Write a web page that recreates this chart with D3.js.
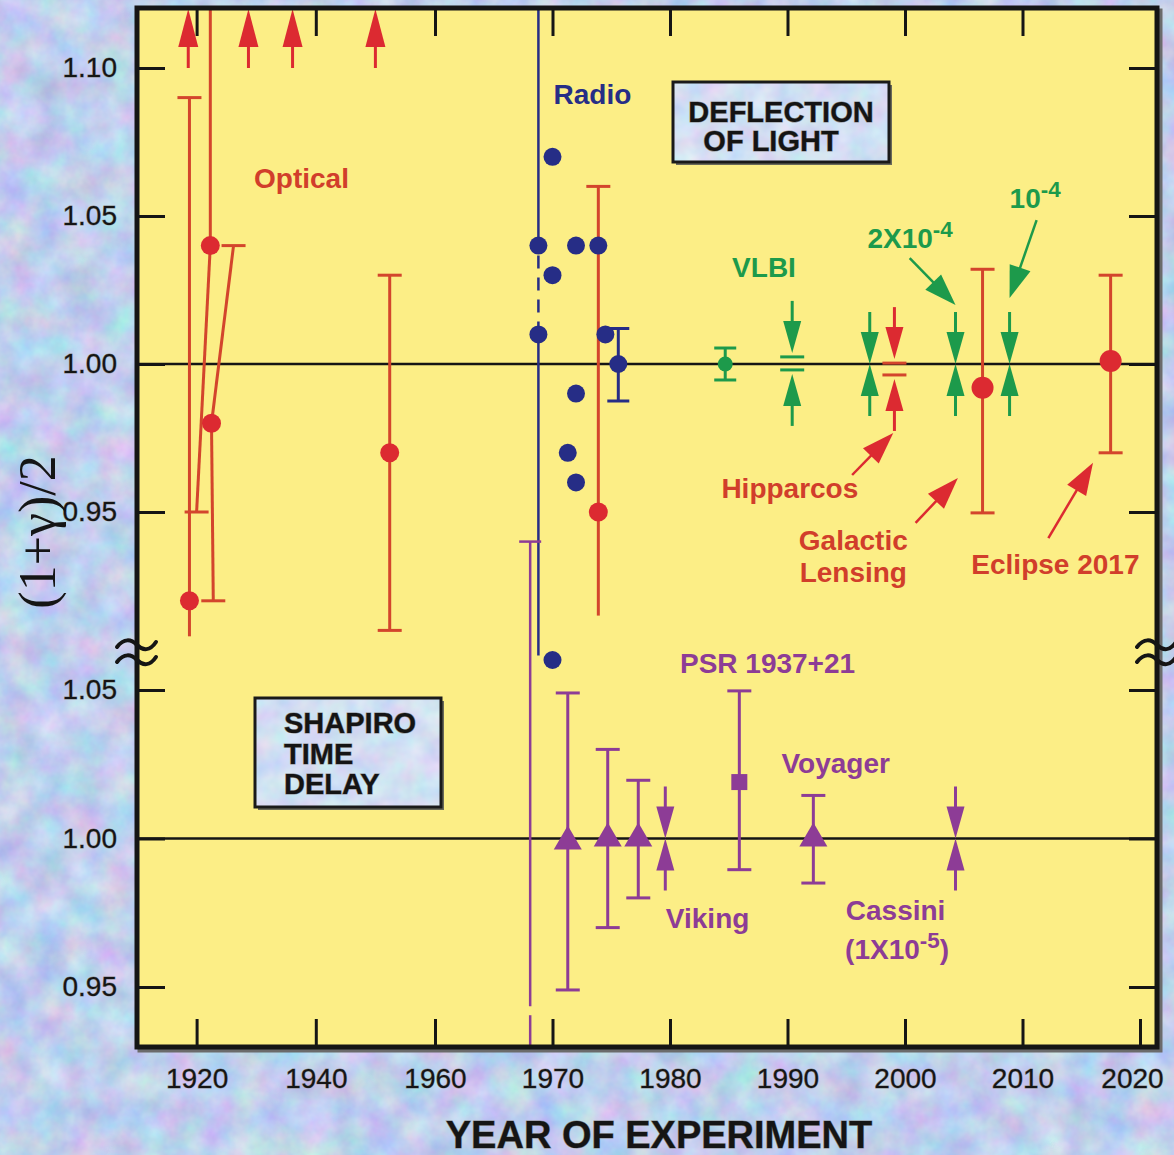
<!DOCTYPE html>
<html><head><meta charset="utf-8">
<script src="https://cdn.jsdelivr.net/npm/d3@7"></script>
<style>html,body{margin:0;padding:0;background:#c2cef0;} svg{display:block}</style>
</head><body>
<svg id="c" width="1174" height="1155"></svg>
<script>
// ---------------- DATA ----------------
const xTickYears = [1920, 1940, 1960, 1970, 1980, 1990, 2000, 2010, 2020];
const xTopTickYears = [1920, 1940, 1960, 1970, 1980, 1990, 2000, 2010];
const yTicksUpper = [1.10, 1.05, 1.00, 0.95];
const yTicksLower = [1.05, 1.00, 0.95];

// Optical deflection (red), upper panel
const opticalYears     = [1918.8, 1922.3, 1922.5, 1952.4, 1973.9];
const opticalValues    = [0.920, 1.040, 0.980, 0.970, 0.950];
const opticalHigh      = [1.090, 1.125, 1.040, 1.030, 1.060];
const opticalHighYear  = [1918.8, 1922.3, 1926.2, 1952.4, 1973.9];
const opticalLow       = [0.908, 0.950, 0.920, 0.910, 0.915];
const opticalLowYear   = [1918.8, 1920.0, 1922.8, 1952.4, 1973.9];
const opticalHighCap   = [true, false, true, true, true];
const opticalLowCap    = [false, true, true, true, false];
// Optical results off the top of the scale (> 1.10)
const opticalOffYears  = [1918.6, 1928.7, 1936.1, 1950.0];

// Radio (navy dots)
const radioYears  = [1968.8, 1970.0, 1970.0, 1968.8, 1972.0, 1973.9, 1972.0, 1971.3, 1972.0, 1974.5, 1970.0];
const radioValues = [1.040, 1.070, 1.030, 1.010, 1.040, 1.040, 0.990, 0.970, 0.960, 1.010, 0.900];
// Radio wide bound (1968.8) and radio error-bar point (1975.6)
const radioWideYear = 1968.8, radioWideHigh = 1.125, radioWideLow = 0.9005, radioDashFrom = 1.040, radioDashTo = 1.010;
const radioBarYear = 1975.6, radioBarValue = 1.000, radioBarHigh = 1.012, radioBarLow = 0.9875;

// VLBI point with error bar (green)
const vlbiYear = 1984.7, vlbiValue = 1.000, vlbiHigh = 1.0054, vlbiLow = 0.9946;

// Bounds drawn as converging arrows (upper panel)
const boundYears = [1990.4, 1997.0, 1999.1, 2004.3, 2008.9];
const boundHigh  = [1.0024, 1.000, 1.0003, 1.000, 1.000];
const boundLow   = [0.9980, 1.000, 0.9963, 1.000, 1.000];
const boundGroup = ['VLBI', 'VLBI', 'Hipparcos', 'VLBI', 'VLBI'];

// Galactic lensing & Eclipse 2017 (red)
const modernYears  = [2006.6, 2017.5];
const modernValues = [0.992, 1.001];
const modernHigh   = [1.032, 1.030];
const modernLow    = [0.9497, 0.970];

// Shapiro time delay (purple), lower panel
const shapiroYears  = [1971.3, 1974.7, 1977.3, 1992.2];
const shapiroValues = [1.000, 1.001, 1.001, 1.001];
const shapiroHigh   = [1.049, 1.030, 1.0196, 1.0145];
const shapiroLow    = [0.949, 0.970, 0.980, 0.985];
const psrYear = 1985.9, psrValue = 1.019, psrHigh = 1.0497, psrLow = 0.9895;
const shapiroBoundYears = [1979.6, 2004.3];
const shapiroBoundValue = [1.000, 1.000];
const shapiro1968Year = 1968.1, shapiro1968Top = 0.940;

// ---------------- STYLE / LAYOUT ----------------
const C = {
  red: '#dc2a31', redBar: '#d3452c', redText: '#d13e2b',
  navy: '#262d86', green: '#1d9a4b', purple: '#8d3c96',
  yellow: '#fcee86', ink: '#151515'
};
const FONT = '"Liberation Sans", Arial, Helvetica, sans-serif';
const frame = {l: 137, r: 1157, t: 8, b: 1047};

const X  = d3.scaleLinear().domain([1910, 1960, 2020]).range([137, 435, 1140]);
const YU = d3.scaleLinear().domain([0.95, 1.10]).range([512, 68]);
const YL = d3.scaleLinear().domain([0.95, 1.05]).range([987, 690]);

const svg = d3.select('#c');
const defs = svg.append('defs');

// marbled background
const f1 = defs.append('filter').attr('id', 'marble').attr('x', 0).attr('y', 0).attr('width', '100%').attr('height', '100%')
  .attr('color-interpolation-filters', 'sRGB');
f1.append('feTurbulence').attr('type', 'fractalNoise').attr('baseFrequency', '0.03').attr('numOctaves', 4).attr('seed', 7);
f1.append('feColorMatrix').attr('type', 'matrix').attr('values',
  '0.34 0 0 0 0.58  0 0.30 0 0 0.66  0 0 0.14 0 0.86  0 0 0 0 1');
const f2 = defs.append('filter').attr('id', 'marble2').attr('x', 0).attr('y', 0).attr('width', '100%').attr('height', '100%')
  .attr('color-interpolation-filters', 'sRGB');
f2.append('feTurbulence').attr('type', 'fractalNoise').attr('baseFrequency', '0.04').attr('numOctaves', 3).attr('seed', 3);
f2.append('feColorMatrix').attr('type', 'matrix').attr('values',
  '0.36 0 0 0 0.64  0 0.30 0 0 0.72  0 0 0.12 0 0.89  0 0 0 0 1');

defs.append('clipPath').attr('id', 'plotclip').append('rect')
  .attr('x', frame.l).attr('y', frame.t).attr('width', frame.r - frame.l).attr('height', frame.b - frame.t);

svg.append('rect').attr('width', 1174).attr('height', 1155).attr('fill', '#c2cef0');
svg.append('rect').attr('width', 1174).attr('height', 1155).attr('filter', 'url(#marble)');

// frame shadow and fill
svg.append('rect').attr('x', frame.l + 3).attr('y', frame.t + 3).attr('width', frame.r - frame.l).attr('height', frame.b - frame.t)
  .attr('fill', 'none').attr('stroke', '#6b6b6b').attr('stroke-width', 5);
svg.append('rect').attr('x', frame.l).attr('y', frame.t).attr('width', frame.r - frame.l).attr('height', frame.b - frame.t)
  .attr('fill', C.yellow);

// ---------- axes ----------
const axisG = svg.append('g');
function styleAxis(g) {
  g.select('.domain').remove();
  g.selectAll('.tick line').attr('stroke', C.ink).attr('stroke-width', 3);
  g.selectAll('.tick text').attr('font-family', FONT).attr('font-size', 28).attr('fill', C.ink)
    .attr('stroke', '#8a8a8a').attr('stroke-width', 0.8).attr('paint-order', 'stroke');
}
axisG.append('g').attr('transform', `translate(0,${frame.b})`)
  .call(d3.axisBottom(X).tickValues(xTickYears).tickSize(-28).tickPadding(21).tickFormat(d3.format('d')))
  .call(styleAxis)
  .call(g => g.selectAll('.tick text').attr('transform', d => d === 2020 ? 'translate(-8,0)' : null));
axisG.append('g').attr('transform', `translate(0,${frame.t})`)
  .call(d3.axisTop(X).tickValues(xTopTickYears).tickSize(-28).tickFormat(''))
  .call(styleAxis);
axisG.append('g').attr('transform', `translate(${frame.l},0)`)
  .call(d3.axisLeft(YU).tickValues(yTicksUpper).tickSize(-28).tickPadding(20).tickFormat(d3.format('.2f')))
  .call(styleAxis);
axisG.append('g').attr('transform', `translate(${frame.l},0)`)
  .call(d3.axisLeft(YL).tickValues(yTicksLower).tickSize(-28).tickPadding(20).tickFormat(d3.format('.2f')))
  .call(styleAxis);
axisG.append('g').attr('transform', `translate(${frame.r},0)`)
  .call(d3.axisRight(YU).tickValues(yTicksUpper).tickSize(-28).tickFormat(''))
  .call(styleAxis);
axisG.append('g').attr('transform', `translate(${frame.r},0)`)
  .call(d3.axisRight(YL).tickValues(yTicksLower).tickSize(-28).tickFormat(''))
  .call(styleAxis);

// reference lines at 1.00
[YU(1.0), YL(1.0)].forEach(y => {
  svg.append('line').attr('x1', frame.l).attr('x2', frame.r).attr('y1', y).attr('y2', y)
    .attr('stroke', C.ink).attr('stroke-width', 2.5);
});

const plot = svg.append('g').attr('clip-path', 'url(#plotclip)');

// ---------- helpers ----------
function seg(g, x1, y1, x2, y2, color, w, dash) {
  const l = g.append('line').attr('x1', x1).attr('y1', y1).attr('x2', x2).attr('y2', y2)
    .attr('stroke', color).attr('stroke-width', w);
  if (dash) l.attr('stroke-dasharray', dash);
  return l;
}
function cap(g, x, y, color, half, w) { seg(g, x - half, y, x + half, y, color, w || 3); }
function arrow(g, x1, y1, x2, y2, color, headLen, headW, shaftW) {
  const dx = x2 - x1, dy = y2 - y1, L = Math.hypot(dx, dy), ux = dx / L, uy = dy / L;
  const bx = x2 - ux * headLen, by = y2 - uy * headLen;
  seg(g, x1, y1, bx + ux * 2, by + uy * 2, color, shaftW);
  const px = -uy, py = ux;
  g.append('path').attr('d', `M${x2},${y2}L${bx + px * headW / 2},${by + py * headW / 2}L${bx - px * headW / 2},${by - py * headW / 2}Z`)
    .attr('fill', color);
}
function bracket(g, x, yTipHi, yTipLo, color) {
  arrow(g, x, yTipHi - 52, x, yTipHi, color, 32, 18, 3);
  arrow(g, x, yTipLo + 52, x, yTipLo, color, 32, 18, 3);
}
function label(g, txt, x, y, color, size, opts) {
  opts = opts || {};
  const t = g.append('text').attr('x', x).attr('y', y).attr('fill', color)
    .attr('font-family', FONT).attr('font-weight', 'bold').attr('font-size', size)
    .attr('text-anchor', opts.anchor || 'middle');
  t.append('tspan').text(txt);
  if (opts.sup) t.append('tspan').attr('font-size', size * 0.8).attr('dy', -size * 0.4).text(opts.sup);
  if (opts.after) t.append('tspan').attr('dy', size * 0.4).text(opts.after);
  if (opts.halo) t.attr('stroke', '#8c8c8c').attr('stroke-width', 1).attr('paint-order', 'stroke');
  return t;
}

// ---------- Upper panel: deflection of light ----------
opticalOffYears.forEach(yr => arrow(plot, X(yr), YU(1.10), X(yr), frame.t + 1, C.red, 38, 20, 3));

opticalYears.forEach((yr, i) => {
  const xc = X(yr), yc = YU(opticalValues[i]);
  const xh = X(opticalHighYear[i]), yh = YU(opticalHigh[i]);
  const xl = X(opticalLowYear[i]), yl = YU(opticalLow[i]);
  seg(plot, xc, yc, xh, yh, C.redBar, 3);
  seg(plot, xc, yc, xl, yl, C.redBar, 3);
  if (opticalHighCap[i]) cap(plot, xh, yh, C.redBar, 12);
  if (opticalLowCap[i]) cap(plot, xl, yl, C.redBar, 12);
});

// radio wide bound
{
  const x = X(radioWideYear);
  seg(plot, x, YU(radioWideHigh), x, YU(radioDashFrom), C.navy, 2.5);
  seg(plot, x, YU(radioDashFrom) + 10, x, YU(radioDashTo) - 6, C.navy, 2.5, '13 9');
  seg(plot, x, YU(radioDashTo), x, YU(radioWideLow) - 3, C.navy, 2.5);
}
// Shapiro 1968 bar crossing the break
{
  const x = X(shapiro1968Year), yTop = YU(shapiro1968Top);
  const ySolidEnd = YL(0.9435), yDash = YL(0.9405);
  seg(plot, x, yTop, x, ySolidEnd, C.purple, 2.5);
  seg(plot, x, yDash, x, frame.b - 2, C.purple, 2.5);
  cap(plot, x, yTop, C.purple, 11, 2.5);
}

// radio error bar point
{
  const x = X(radioBarYear);
  seg(plot, x, YU(radioBarHigh), x, YU(radioBarLow), C.navy, 3);
  cap(plot, x, YU(radioBarHigh), C.navy, 11);
  cap(plot, x, YU(radioBarLow), C.navy, 11);
  plot.append('circle').attr('cx', x).attr('cy', YU(radioBarValue)).attr('r', 9).attr('fill', C.navy);
}
radioYears.forEach((yr, i) => {
  plot.append('circle').attr('cx', X(yr)).attr('cy', YU(radioValues[i])).attr('r', 9).attr('fill', C.navy);
});
opticalYears.forEach((yr, i) => {
  plot.append('circle').attr('cx', X(yr)).attr('cy', YU(opticalValues[i])).attr('r', 9.5).attr('fill', C.red);
});

// VLBI point
{
  const x = X(vlbiYear);
  seg(plot, x, YU(vlbiHigh), x, YU(vlbiLow), C.green, 3);
  cap(plot, x, YU(vlbiHigh), C.green, 11);
  cap(plot, x, YU(vlbiLow), C.green, 11);
  plot.append('circle').attr('cx', x).attr('cy', YU(vlbiValue)).attr('r', 7.5).attr('fill', C.green);
}
boundYears.forEach((yr, i) => {
  const x = X(yr), col = boundGroup[i] === 'Hipparcos' ? C.red : C.green;
  const yh = YU(boundHigh[i]), yl = YU(boundLow[i]);
  if (boundHigh[i] !== boundLow[i]) {
    const cc = boundGroup[i] === 'Hipparcos' ? C.redBar : C.green;
    cap(plot, x, yh, cc, 12, 3);
    cap(plot, x, yl, cc, 12, 3);
    bracket(plot, x, yh - 4, yl + 4, col);
  } else {
    bracket(plot, x, yh, yl, col);
  }
});
modernYears.forEach((yr, i) => {
  const x = X(yr);
  seg(plot, x, YU(modernHigh[i]), x, YU(modernLow[i]), C.redBar, 3);
  cap(plot, x, YU(modernHigh[i]), C.redBar, 12);
  cap(plot, x, YU(modernLow[i]), C.redBar, 12);
  plot.append('circle').attr('cx', x).attr('cy', YU(modernValues[i])).attr('r', 11).attr('fill', C.red);
});

// ---------- Lower panel: Shapiro time delay ----------
shapiroYears.forEach((yr, i) => {
  const x = X(yr), y = YL(shapiroValues[i]);
  seg(plot, x, YL(shapiroHigh[i]), x, YL(shapiroLow[i]), C.purple, 3);
  cap(plot, x, YL(shapiroHigh[i]), C.purple, 12);
  cap(plot, x, YL(shapiroLow[i]), C.purple, 12);
  plot.append('path').attr('d', `M${x},${y - 13}L${x + 14},${y + 11}L${x - 14},${y + 11}Z`).attr('fill', C.purple);
});
{
  const x = X(psrYear);
  seg(plot, x, YL(psrHigh), x, YL(psrLow), C.purple, 3);
  cap(plot, x, YL(psrHigh), C.purple, 12);
  cap(plot, x, YL(psrLow), C.purple, 12);
  plot.append('rect').attr('x', x - 8).attr('y', YL(psrValue) - 8).attr('width', 16).attr('height', 16).attr('fill', C.purple);
}
shapiroBoundYears.forEach((yr, i) => {
  const x = X(yr), y = YL(shapiroBoundValue[i]);
  bracket(plot, x, y, y, C.purple);
});

// ---------- annotation arrows (data coordinates of the upper panel) ----------
const annArrows = [
  {from: [1995.5, 0.9625], to: [1999.0, 0.9767], color: C.red},
  {from: [2000.9, 0.9463], to: [2004.5, 0.9615], color: C.red},
  {from: [2012.2, 0.9412], to: [2016.0, 0.9666], color: C.red},
  {from: [2000.4, 1.0358], to: [2004.3, 1.0199], color: C.green},
  {from: [2011.2, 1.0486], to: [2008.9, 1.0223], color: C.green}
];
annArrows.forEach(a => arrow(plot, X(a.from[0]), YU(a.from[1]), X(a.to[0]), YU(a.to[1]), a.color, 32, 22, 2.5));

// ---------- labels ----------
const lab = svg.append('g');
const LS = 28;
label(lab, 'Optical', X(1937.6), YU(1.0595), C.redText, LS);
label(lab, 'Radio', X(1973.4), YU(1.0878), C.navy, LS);
label(lab, 'VLBI', X(1988.0), YU(1.0294), C.green, LS);
label(lab, '2X10', X(1996.8), YU(1.0392), C.green, LS, {anchor: 'start', sup: '-4'});
label(lab, '10', X(2008.9), YU(1.0527), C.green, LS, {anchor: 'start', sup: '-4'});
label(lab, 'Hipparcos', X(1990.2), YU(0.9547), C.redText, LS);
label(lab, 'Galactic', X(1995.6), YU(0.9372), C.redText, LS);
label(lab, 'Lensing', X(1995.6), YU(0.9265), C.redText, LS);
label(lab, 'Eclipse 2017', X(2012.8), YU(0.9291), C.redText, LS);
label(lab, 'PSR 1937+21', X(1988.3), YL(1.0557), C.purple, LS);
label(lab, 'Voyager', X(1994.1), YL(1.0221), C.purple, LS);
label(lab, 'Viking', X(1983.2), YL(0.9699), C.purple, LS);
label(lab, 'Cassini', X(1999.2), YL(0.9725), C.purple, LS);
label(lab, '(1X10', X(1994.9), YL(0.9595), C.purple, LS, {anchor: 'start', sup: '-5', after: ')'});

// boxes
function box(x, y, w, h, lines, tx, ty, lh, anchor) {
  svg.append('rect').attr('x', x + 3).attr('y', y + 3).attr('width', w).attr('height', h).attr('fill', '#6a6a5a');
  svg.append('rect').attr('x', x).attr('y', y).attr('width', w).attr('height', h).attr('fill', '#d3e2f5');
  svg.append('rect').attr('x', x).attr('y', y).attr('width', w).attr('height', h).attr('filter', 'url(#marble2)').attr('opacity', 0.6);
  svg.append('rect').attr('x', x).attr('y', y).attr('width', w).attr('height', h).attr('fill', 'none')
    .attr('stroke', '#1a1a1a').attr('stroke-width', 3);
  lines.forEach((s, i) => label(svg, s, tx[i], ty + i * lh, '#141414', 29, {anchor: anchor, halo: true}));
}
box(673, 82, 216, 80, ['DEFLECTION', 'OF LIGHT'], [781, 771], 122, 29, 'middle');
box(255, 698, 186, 109, ['SHAPIRO', 'TIME', 'DELAY'], [284, 284, 284], 733, 30.5, 'start');

// frame border
svg.append('rect').attr('x', frame.l).attr('y', frame.t).attr('width', frame.r - frame.l).attr('height', frame.b - frame.t)
  .attr('fill', 'none').attr('stroke', C.ink).attr('stroke-width', 5);

// axis break marks
function squiggle(xc, y) {
  svg.append('path').attr('d', `M${xc - 20},${y + 2} C${xc - 13},${y - 7} ${xc - 6},${y - 6} ${xc},${y} S${xc + 13},${y + 6} ${xc + 19},${y - 3}`)
    .attr('fill', 'none').attr('stroke', C.ink).attr('stroke-width', 4).attr('stroke-linecap', 'round');
}
[frame.l, frame.r].forEach(x => { squiggle(x, 645); squiggle(x, 660); });

// axis titles
svg.append('text').attr('x', 659).attr('y', 1148).attr('text-anchor', 'middle')
  .attr('font-family', FONT).attr('font-weight', 'bold').attr('font-size', 38).attr('fill', C.ink)
  .attr('stroke', '#8a8a8a').attr('stroke-width', 1).attr('paint-order', 'stroke')
  .text('YEAR OF EXPERIMENT');
svg.append('text').attr('transform', 'translate(37,532) rotate(-90)').attr('text-anchor', 'middle')
  .attr('dominant-baseline', 'central')
  .attr('font-family', '"Liberation Serif", "Times New Roman", serif').attr('font-size', 52).attr('fill', C.ink)
  .text('(1+γ)/2');
</script>
</body></html>
